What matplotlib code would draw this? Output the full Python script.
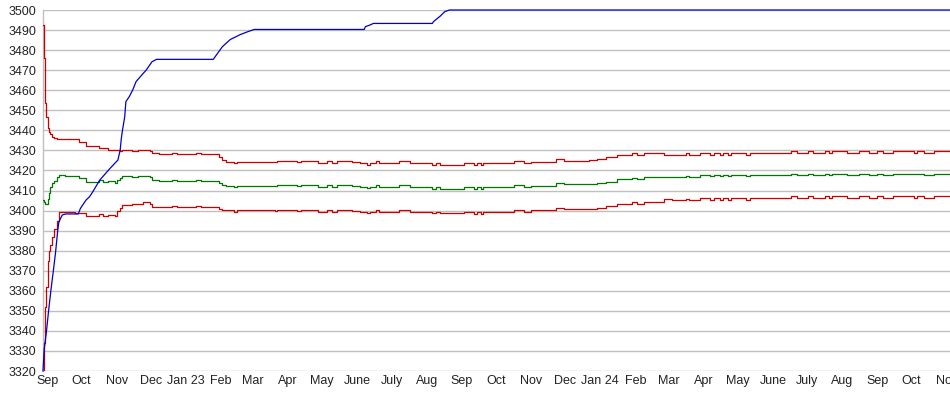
import matplotlib
matplotlib.use("Agg")
import matplotlib.pyplot as plt
import numpy as np
import pandas as pd

# band series (upper red, middle green, lower red) share dates
band_dates = [
    "2022-08-28", "2022-08-29", "2022-08-30", "2022-08-31", "2022-09-01", "2022-09-02",
    "2022-09-03", "2022-09-05", "2022-09-07", "2022-09-09", "2022-09-11", "2022-09-16",
    "2022-09-25", "2022-09-29", "2022-10-05", "2022-10-16", "2022-10-20", "2022-10-24",
    "2022-10-30", "2022-11-01", "2022-11-04", "2022-11-06", "2022-11-14", "2022-11-20",
    "2022-11-24", "2022-11-30", "2022-12-02", "2022-12-08", "2022-12-20", "2022-12-24",
    "2023-01-10", "2023-01-14", "2023-01-30", "2023-02-02", "2023-02-05", "2023-02-12",
    "2023-02-15", "2023-03-20", "2023-03-22", "2023-04-09", "2023-04-12", "2023-04-27",
    "2023-05-05", "2023-05-10", "2023-05-14", "2023-05-27", "2023-06-03", "2023-06-09",
    "2023-06-12", "2023-06-17", "2023-06-20", "2023-07-08", "2023-07-17", "2023-08-06",
    "2023-08-09", "2023-08-13", "2023-09-03", "2023-09-12", "2023-09-14", "2023-09-18",
    "2023-09-20", "2023-10-17", "2023-10-26", "2023-11-01", "2023-11-23", "2023-11-30",
    "2023-12-22", "2023-12-29", "2024-01-06", "2024-01-16", "2024-01-29", "2024-02-02",
    "2024-02-08", "2024-02-26", "2024-03-04", "2024-03-16", "2024-03-19", "2024-03-29",
    "2024-04-07", "2024-04-10", "2024-04-15", "2024-04-18", "2024-04-22", "2024-04-25",
    "2024-05-08", "2024-05-12", "2024-06-17", "2024-06-22", "2024-07-02", "2024-07-06",
    "2024-07-17", "2024-07-20", "2024-07-23", "2024-08-05", "2024-08-16", "2024-08-25",
    "2024-09-01", "2024-09-06", "2024-09-15", "2024-10-03", "2024-10-06", "2024-10-12",
    "2024-10-21", "2024-11-04",
]
upper = [
    3492.5, 3476, 3453.6, 3446.8, 3441, 3439,
    3438, 3436.5, 3436, 3435.5, 3435.5, 3435.5,
    3435.5, 3434.3, 3432, 3431, 3431, 3430,
    3430, 3430, 3429.5, 3430, 3429.5, 3430,
    3430, 3429.5, 3428.5, 3428, 3428.5, 3428,
    3428.5, 3428, 3426.5, 3425, 3424.4, 3423.6,
    3424.4, 3424, 3424.7, 3424, 3424.7, 3423.6,
    3424.7, 3423.6, 3424.7, 3424, 3423.6, 3422.7,
    3423.6, 3424.7, 3423.6, 3424.7, 3423.6, 3422.7,
    3423.6, 3422.7, 3423.6, 3422.7, 3423.6, 3422.7,
    3423.6, 3424.7, 3423.6, 3424.3, 3425.5, 3424.7,
    3425, 3425.7, 3426.5, 3427.7, 3428.5, 3427.7,
    3428.5, 3427.7, 3427.7, 3428.5, 3427.7, 3428.5,
    3427.7, 3428.5, 3427.7, 3428.5, 3427.7, 3428.5,
    3427.7, 3428.5, 3429.7, 3428.5, 3429.7, 3428.5,
    3429.7, 3428.5, 3429.7, 3428.5, 3429.7, 3428.5,
    3429.7, 3428.5, 3429.7, 3428.8, 3429.7, 3428.5,
    3429.7, 3429.7,
]
middle = [
    3405.3, 3404.5, 3403.5, 3403.3, 3406, 3409,
    3411.5, 3413.5, 3414.5, 3416.5, 3417.7, 3417,
    3417, 3416.3, 3414.4, 3415, 3414, 3414.5,
    3413.8, 3415, 3416, 3417.2, 3416.5, 3417.2,
    3417.2, 3416.5, 3415.2, 3414.7, 3415.2, 3414.7,
    3415.2, 3414.7, 3413.5, 3412.5, 3412.3, 3411.8,
    3412.3, 3412, 3412.7, 3412, 3412.7, 3411.8,
    3412.7, 3411.8, 3412.7, 3412, 3411.6, 3411,
    3411.6, 3412.7, 3411.6, 3412.7, 3411.6, 3410.8,
    3411.6, 3410.6, 3411.6, 3410.8, 3411.6, 3410.8,
    3411.6, 3412.7, 3411.6, 3412.3, 3413.5, 3413,
    3413.2, 3413.5, 3414.4, 3415.6, 3416.4, 3415.6,
    3416.6, 3416.6, 3416.6, 3417.3, 3416.6, 3417.7,
    3417, 3417.7, 3417, 3417.7, 3417, 3417.7,
    3417, 3417.7, 3418.3, 3417.7, 3418.3, 3417.7,
    3418.3, 3417.7, 3418.3, 3417.7, 3418.3, 3417.7,
    3418.3, 3417.7, 3418.3, 3418, 3418.3, 3417.7,
    3418.3, 3418.3,
]
lower = [
    3320, 3334, 3352, 3362, 3375, 3380,
    3383, 3387, 3391, 3395, 3399.4, 3399.4,
    3398.6, 3398.6, 3397.5, 3398.3, 3397.5, 3398,
    3397.5, 3400, 3401.5, 3402.8, 3403.3, 3403.5,
    3404.4, 3403.5, 3402, 3401.6, 3402.2, 3401.6,
    3402.2, 3401.6, 3400.8, 3400.3, 3400.3, 3399.5,
    3400.3, 3400, 3400.3, 3399.8, 3400.3, 3399.5,
    3400.3, 3399.5, 3400.3, 3399.8, 3399.5, 3398.7,
    3399.5, 3400.3, 3399.5, 3400.3, 3399.5, 3398.7,
    3399.5, 3398.7, 3399.1, 3398.5, 3399.1, 3398.5,
    3399.1, 3400.3, 3399.3, 3400.3, 3401.1, 3401,
    3401, 3401.1, 3402.3, 3403.3, 3404.4, 3403.3,
    3404.4, 3405.6, 3405.3, 3406, 3405.3, 3406.1,
    3405.3, 3406.1, 3405.3, 3406.1, 3405.3, 3406.1,
    3405.3, 3406.1, 3407.2, 3406.1, 3407.2, 3406.1,
    3407.2, 3406.1, 3407.2, 3406.1, 3407.2, 3406.1,
    3407.2, 3406.1, 3407.2, 3406.5, 3407.2, 3406.1,
    3407.2, 3407.2,
]

# blue series
blue_dates = [
    "2022-08-28", "2022-08-29", "2022-08-31", "2022-09-02", "2022-09-04", "2022-09-06",
    "2022-09-08", "2022-09-10", "2022-09-11", "2022-09-14", "2022-09-17", "2022-09-28",
    "2022-09-30", "2022-10-05", "2022-10-08", "2022-10-11", "2022-10-17", "2022-10-26",
    "2022-11-02", "2022-11-04", "2022-11-05", "2022-11-06", "2022-11-08", "2022-11-09",
    "2022-11-12", "2022-11-15", "2022-11-18", "2022-11-23", "2022-11-27", "2022-12-02",
    "2022-12-06", "2023-01-25", "2023-02-02", "2023-02-09", "2023-02-18", "2023-02-24",
    "2023-03-02", "2023-06-07", "2023-06-08", "2023-06-12", "2023-06-15", "2023-08-06",
    "2023-08-07", "2023-08-13", "2023-08-17", "2023-08-21", "2024-11-04",
]
blue = [
    3320, 3330.5, 3339.6, 3350.4, 3360.4, 3369.5,
    3378.8, 3390.3, 3394.4, 3397.8, 3398.3, 3398.3,
    3401.1, 3405.3, 3406.9, 3409.5, 3415.2, 3421,
    3425.2, 3430.2, 3436, 3440, 3446.8, 3454.3,
    3456.8, 3460.1, 3464.3, 3467.6, 3470.1, 3474.2,
    3475.4, 3475.4, 3481.7, 3485.3, 3487.8, 3489.1,
    3490.3, 3490.3, 3491.7, 3492.5, 3493.3, 3493.3,
    3494.2, 3497, 3499.2, 3500, 3500,
]

month_ticks = pd.date_range("2022-09-01", "2024-11-01", freq="MS")
tick_labels = ["Sep", "Oct", "Nov", "Dec", "Jan 23", "Feb", "Mar", "Apr", "May", "June",
               "July", "Aug", "Sep", "Oct", "Nov", "Dec", "Jan 24", "Feb", "Mar", "Apr",
               "May", "June", "July", "Aug", "Sep", "Oct", "Nov"]

plt.rcParams['font.family'] = ['Liberation Sans', 'DejaVu Sans']

fig = plt.figure(figsize=(9.5, 3.95), dpi=100)
ax = fig.add_axes([43 / 950, 24 / 395, 1 - 43 / 950, 361 / 395])

bd = pd.to_datetime(band_dates)
red = '#cc0000'
ax.plot(bd, upper, color=red, lw=0.9, drawstyle='steps-post', zorder=3)
ax.plot(bd, middle, color='#007700', lw=0.9, drawstyle='steps-post', zorder=3)
ax.plot(bd, lower, color=red, lw=0.9, drawstyle='steps-post', zorder=3)
ax.plot(pd.to_datetime(blue_dates), blue, color='#0000cc', lw=0.9,
        zorder=4, clip_on=False)

ax.set_xlim(pd.Timestamp("2022-08-28"), pd.Timestamp("2024-11-04"))
ax.set_ylim(3320, 3500)
ax.set_yticks(np.arange(3320, 3501, 10))
ax.set_xticks(month_ticks)
ax.set_xticklabels(tick_labels)
ax.tick_params(length=0, labelsize=9, colors='#222222')
ax.tick_params(axis='y', pad=5)
ax.tick_params(axis='x', pad=3)

ax.grid(axis='y', color='#c0c0c0', lw=1.0)
ax.set_axisbelow(True)
for s in ('top', 'right', 'bottom'):
    ax.spines[s].set_visible(False)
ax.spines['left'].set_color('#c0c0c0')
ax.spines['left'].set_linewidth(1.0)

fig.savefig("out.png", dpi=100)
